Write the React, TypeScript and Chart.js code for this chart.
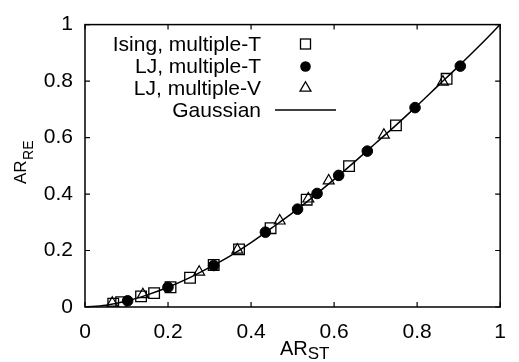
import React, { useEffect, useRef } from "react";
import { Chart, registerables } from "chart.js";

Chart.register(...registerables);

// Ising, multiple-T (open squares)
const isingX = [0.068, 0.087, 0.135, 0.1665, 0.206, 0.253, 0.31, 0.371, 0.447, 0.534, 0.636, 0.749, 0.871];
const isingY = [0.012, 0.017, 0.0375, 0.049, 0.07, 0.1035, 0.149, 0.204, 0.279, 0.38, 0.499, 0.643, 0.808];

// LJ, multiple-T (filled circles)
const ljTX = [0.1027, 0.1998, 0.31, 0.4345, 0.512, 0.559, 0.611, 0.68, 0.795, 0.904];
const ljTY = [0.022, 0.07, 0.147, 0.265, 0.3465, 0.402, 0.466, 0.552, 0.706, 0.853];

// LJ, multiple-V (open triangles)
const ljVX = [0.0657, 0.1395, 0.275, 0.367, 0.469, 0.538, 0.587, 0.72, 0.862];
const ljVY = [0.014, 0.044, 0.124, 0.202, 0.305, 0.383, 0.447, 0.609, 0.797];

// Gaussian curve
const gaussX = [0, 0.05, 0.1, 0.15, 0.2, 0.25, 0.3, 0.35, 0.4, 0.45, 0.5, 0.55, 0.6, 0.65, 0.7, 0.75, 0.8, 0.85, 0.9, 0.95, 1];
const gaussY = [0, 0.006, 0.021, 0.043, 0.07, 0.102, 0.14, 0.181, 0.228, 0.28, 0.333, 0.391, 0.452, 0.515, 0.58, 0.645, 0.713, 0.783, 0.853, 0.925, 1];

const tickValues = [0, 0.2, 0.4, 0.6, 0.8, 1];
const legendLabels = ["Ising, multiple-T", "LJ, multiple-T", "LJ, multiple-V", "Gaussian"];
const xTitle = ["AR", "ST"];
const yTitle = ["AR", "RE"];

const FONT = "Liberation Sans, Arial, sans-serif";

const pts = (xs: number[], ys: number[]) => xs.map((x, i) => ({ x, y: ys[i] }));

const framePlugin = {
  id: "frame",
  afterDraw(chart: any) {
    const ctx = chart.ctx as CanvasRenderingContext2D;
    const { left, right, top, bottom } = chart.chartArea;
    const xs = chart.scales.x;
    const ys = chart.scales.y;
    ctx.save();
    ctx.strokeStyle = "#000";
    ctx.lineWidth = 1.5;
    ctx.strokeRect(left, top, right - left, bottom - top);
    ctx.lineWidth = 1.2;
    const tl = 5;
    ctx.beginPath();
    for (const v of tickValues) {
      const px = xs.getPixelForValue(v);
      ctx.moveTo(px, bottom);
      ctx.lineTo(px, bottom - tl);
      ctx.moveTo(px, top);
      ctx.lineTo(px, top + tl);
      const py = ys.getPixelForValue(v);
      ctx.moveTo(left, py);
      ctx.lineTo(left + tl, py);
      ctx.moveTo(right, py);
      ctx.lineTo(right - tl, py);
    }
    ctx.stroke();

    // x title
    ctx.fillStyle = "#000";
    ctx.textAlign = "left";
    ctx.textBaseline = "alphabetic";
    ctx.font = `20px ${FONT}`;
    const ax = 280;
    ctx.fillText(xTitle[0], ax, 355);
    const w1 = ctx.measureText(xTitle[0]).width;
    ctx.font = `17px ${FONT}`;
    ctx.fillText(xTitle[1], ax + w1, 358.5);

    // y title
    ctx.save();
    ctx.translate(26, 184);
    ctx.rotate(-Math.PI / 2);
    ctx.font = `17px ${FONT}`;
    ctx.fillText(yTitle[0], 0, 0);
    const w2 = ctx.measureText(yTitle[0]).width;
    ctx.font = `14px ${FONT}`;
    ctx.fillText(yTitle[1], w2 + 0.5, 7);
    ctx.restore();

    // legend
    const rows = [44, 66.5, 88, 110];
    const textRight = 261;
    const symX = 305.5;
    ctx.font = `21px ${FONT}`;
    ctx.textAlign = "right";
    ctx.textBaseline = "middle";
    legendLabels.forEach((lab, i) => ctx.fillText(lab, textRight, rows[i] + 1));
    ctx.lineWidth = 1.3;
    // square
    ctx.strokeRect(symX - 5, rows[0] - 5, 10, 10);
    // circle
    ctx.beginPath();
    ctx.arc(symX, rows[1], 5.3, 0, Math.PI * 2);
    ctx.fill();
    // triangle
    const r = 6.3;
    ctx.beginPath();
    ctx.moveTo(symX, rows[2] - r);
    ctx.lineTo(symX + r * Math.sin((2 * Math.PI) / 3), rows[2] - r * Math.cos((2 * Math.PI) / 3));
    ctx.lineTo(symX - r * Math.sin((2 * Math.PI) / 3), rows[2] - r * Math.cos((2 * Math.PI) / 3));
    ctx.closePath();
    ctx.stroke();
    // line
    ctx.lineWidth = 1.5;
    ctx.beginPath();
    ctx.moveTo(275, rows[3]);
    ctx.lineTo(336, rows[3]);
    ctx.stroke();
    ctx.restore();
  },
};

export default function App() {
  const ref = useRef<HTMLCanvasElement>(null);
  useEffect(() => {
    document.body.style.margin = "0";
    Chart.defaults.font.family = FONT;
    Chart.defaults.color = "#000";
    const chart = new Chart(ref.current!, {
      type: "scatter",
      data: {
        datasets: [
          {
            label: legendLabels[3],
            type: "line",
            data: pts(gaussX, gaussY),
            borderColor: "#000",
            borderWidth: 1.5,
            pointRadius: 0,
            cubicInterpolationMode: "monotone",
            fill: false,
          } as any,
          {
            label: legendLabels[0],
            data: pts(isingX, isingY),
            pointStyle: "rect",
            pointRadius: 7.5,
            borderColor: "#000",
            borderWidth: 1.3,
            backgroundColor: "rgba(0,0,0,0)",
          },
          {
            label: legendLabels[1],
            data: pts(ljTX, ljTY),
            pointStyle: "circle",
            pointRadius: 5.3,
            borderColor: "#000",
            borderWidth: 1,
            backgroundColor: "#000",
          },
          {
            label: legendLabels[2],
            data: pts(ljVX, ljVY),
            pointStyle: "triangle",
            pointRadius: 6.3,
            borderColor: "#000",
            borderWidth: 1.2,
            backgroundColor: "rgba(0,0,0,0)",
          },
        ],
      },
      options: {
        animation: false,
        responsive: false,
        layout: { padding: { left: 0, top: 19, right: 7, bottom: 0 } },
        plugins: { legend: { display: false }, tooltip: { enabled: false } },
        scales: {
          x: {
            type: "linear",
            min: 0,
            max: 1,
            grid: { display: false, drawTicks: false, tickLength: 0 },
            border: { display: false },
            ticks: {
              stepSize: 0.2,
              padding: 13,
              font: { size: 21, family: FONT },
              color: "#000",
              callback: (v: any) => String(Math.round(Number(v) * 10) / 10),
            },
            afterFit: (s: any) => {
              s.height = 55;
            },
          },
          y: {
            type: "linear",
            min: 0,
            max: 1,
            grid: { display: false, drawTicks: false, tickLength: 0 },
            border: { display: false },
            ticks: {
              stepSize: 0.2,
              padding: 12,
              font: { size: 21, family: FONT },
              color: "#000",
              callback: (v: any) => String(Math.round(Number(v) * 10) / 10),
            },
            afterFit: (s: any) => {
              s.width = 85;
            },
          },
        },
      },
      plugins: [framePlugin],
    });
    return () => chart.destroy();
  }, []);
  return <canvas ref={ref} width={519} height={362} style={{ display: "block" }} />;
}
